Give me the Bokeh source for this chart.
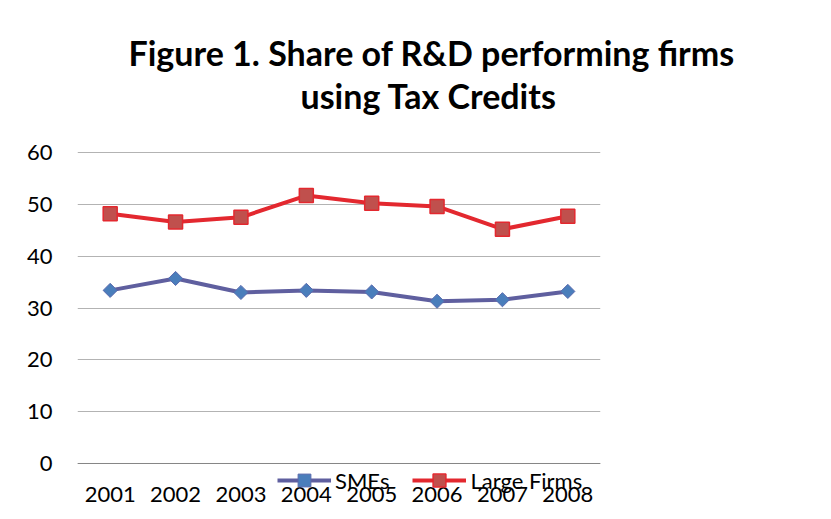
from bokeh.plotting import figure
from bokeh.models import Legend, LegendItem, Title, FixedTicker, Span
from bokeh.embed import file_html
from bokeh.resources import INLINE
import math

years = ["2001", "2002", "2003", "2004", "2005", "2006", "2007", "2008"]
smes = [33.4, 35.7, 33.0, 33.4, 33.1, 31.3, 31.6, 33.2]
large_firms = [48.2, 46.6, 47.5, 51.7, 50.2, 49.6, 45.2, 47.7]
y_ticks = [0, 10, 20, 30, 40, 50, 60]
title_lines = ["Figure 1. Share of R&D performing firms", "using Tax Credits"]
series_names = ["SMEs", "Large Firms"]

FONT = "Lato"

# frame is padded above/below the 0-60 value band so the legend fits inside it
p = figure(x_range=years, y_range=(-7.139, 67.139), width=831, height=519,
           output_backend="svg", toolbar_location=None,
           min_border_left=77, min_border_right=231,
           min_border_top=115, min_border_bottom=19)
p.outline_line_color = None
p.background_fill_color = "white"
p.border_fill_color = "white"

# y axis
p.yaxis.ticker = FixedTicker(ticks=y_ticks)
p.yaxis.axis_line_color = None
p.yaxis.major_tick_line_color = None
p.yaxis.minor_tick_line_color = None
p.yaxis.major_tick_out = 0
p.yaxis.major_tick_in = 0
p.yaxis.major_label_standoff = 25
p.yaxis.major_label_text_font = FONT
p.yaxis.major_label_text_font_size = "22px"
p.yaxis.major_label_text_color = "black"

# x axis
p.xaxis.axis_line_color = None
p.xaxis.major_tick_line_color = None
p.xaxis.major_tick_out = 0
p.xaxis.major_tick_in = 0
p.xaxis.major_label_standoff = -14
p.xaxis.major_label_text_font = FONT
p.xaxis.major_label_text_font_size = "22px"
p.xaxis.major_label_text_color = "black"

p.xgrid.grid_line_color = None
p.ygrid.grid_line_color = "#b3b3b3"
p.ygrid.grid_line_width = 1
p.add_layout(Span(location=0, dimension="width", line_color="#868686", line_width=1))

# series
l1 = p.line(years, smes, line_color="#5f5f9f", line_width=4)
m1 = p.scatter(years, smes, marker="square", angle=math.pi / 4, size=10,
               fill_color="#4a7ebb", line_color="#5a6aae", line_width=1)
l2 = p.line(years, large_firms, line_color="#e3282f", line_width=4)
m2 = p.scatter(years, large_firms, marker="square", size=14,
               fill_color="#c0504d", line_color="#e3282f", line_width=1.5)

legend = Legend(items=[LegendItem(label=series_names[0], renderers=[l1, m1]),
                       LegendItem(label=series_names[1], renderers=[l2, m2])],
                location=(200, 4), orientation="horizontal",
                glyph_width=54, glyph_height=32, label_standoff=4, spacing=23,
                padding=0, margin=0,
                background_fill_alpha=0, border_line_alpha=0,
                label_text_font=FONT, label_text_font_size="22px",
                label_text_color="black", label_height=20)
p.add_layout(legend, "center")

# title: two lines in the panel above the plot (nearest line added first)
p.title = None
p.add_layout(Title(text=title_lines[1], align="left", offset=223,
                   vertical_align="bottom", standoff=0,
                   text_font=FONT, text_font_style="bold",
                   text_font_size="34px", text_color="black"), "above")
p.add_layout(Title(text=title_lines[0], align="left", offset=51,
                   vertical_align="bottom", standoff=0,
                   text_font=FONT, text_font_style="bold",
                   text_font_size="34px", text_color="black"), "above")

open("out.html", "w").write(file_html(p, INLINE))
